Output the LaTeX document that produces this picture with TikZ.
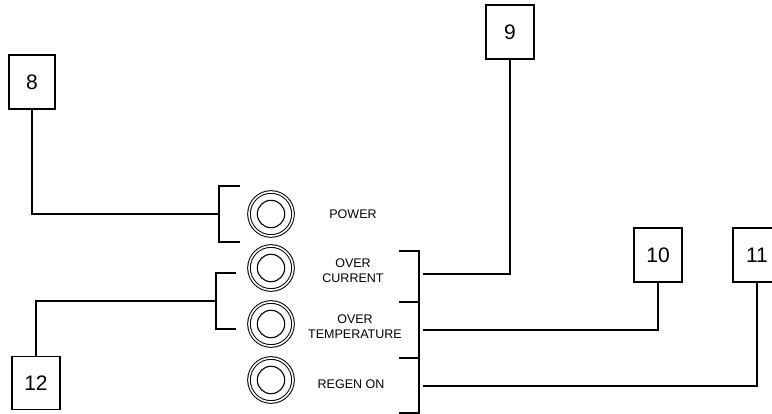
\documentclass[tikz,border=0pt]{standalone}
\usepackage{fontspec}
\setmainfont{Liberation Sans}
\usepackage{tikz}
\usetikzlibrary{positioning}
\tikzset{
  numbox/.style={rectangle, draw=black, line width=1.5pt, minimum width=48pt, minimum height=54pt, inner sep=0pt, font=\fontsize{21}{24}\selectfont},
  lamp/.style={circle, draw=black, line width=1pt, double, double distance=1.6pt, minimum size=44pt, inner sep=0pt,
    path picture={\draw[line width=1.1pt] (path picture bounding box.center) circle (13.7pt);}},
  lamplbl/.style={align=center, font=\fontsize{12.5}{15}\selectfont, inner sep=0pt},
  brack/.style={line width=1.9pt, black},
  wire/.style={line width=1.5pt, black}
}
\begin{document}
\begin{tikzpicture}[x=1pt, y=-1pt]
\useasboundingbox (0,0) rectangle (772,414);
% indicator lamps
\node[lamp] (power) at (271,214) {};
\node[lamp] (ovcur) at (271,268) {};
\node[lamp] (ovtmp) at (271,324) {};
\node[lamp] (regen) at (271,380) {};
\node[lamplbl] (tpower) at (353,214) {POWER};
\node[lamplbl] (tovcur) at (353,271) {OVER\\CURRENT};
\node[lamplbl] (tovtmp) at (355,327) {OVER\\TEMPERATURE};
\node[lamplbl] (tregen) at (351,384) {REGEN ON};
% callout boxes
\node[numbox, minimum width=46pt] (b8) at (32,82) {8};
\node[numbox] (b9) at (510,32) {9};
\node[numbox] (b10) at (658,255) {10};
\node[numbox] (b11) at (757,255) {11};
\node[numbox, minimum height=53pt] (b12) at (36,383) {12};
% brackets
\draw[brack] (240,186) -- (219,186) -- (219,242) -- (240,242);
\draw[brack] (236,273) -- (216,273) -- (216,329) -- (236,329);
\draw[brack] (399,251) -- (419,251) -- (419,413) -- (399,413);
\draw[brack] (399,302) -- (419,302);
\draw[brack] (399,358) -- (419,358);
\coordinate (k8) at (219,214);
\coordinate (k12) at (216,301);
\coordinate (k9) at (423,274);
\coordinate (k10) at (423,330);
\coordinate (k11) at (423,386);
% leaders
\draw[wire] (b8.south) |- (k8);
\draw[wire] (b12.north) |- (k12);
\draw[wire] (k9) -| (b9.south);
\draw[wire] (k10) -| (b10.south);
\draw[wire] (k11) -| (b11.south);
\end{tikzpicture}
\end{document}
